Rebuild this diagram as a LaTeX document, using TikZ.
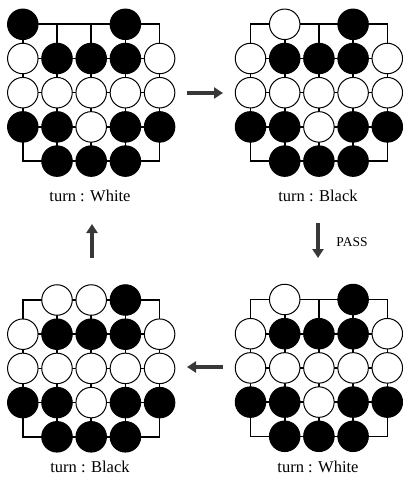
\documentclass[tikz,border=0pt]{standalone}
\usepackage{fontspec}
\setmainfont{Liberation Serif}
\usetikzlibrary{arrows.meta}
\def\sp{34.2}
\tikzset{
  gridline/.style={line width=1.6pt, line cap=rect},
  stone/.style={circle, draw=black, line width=1pt, minimum size=30.5pt, inner sep=0pt},
  stoneB/.style={stone, fill=black},
  stoneW/.style={stone, fill=white},
  turnlabel/.style={font=\fontsize{16.5}{18}\selectfont, inner sep=0pt},
  passlabel/.style={font=\fontsize{13.5}{15}\selectfont, inner sep=0pt},
  bigarrow/.style={line width=4pt, draw=black!78, -{Triangle[length=9pt,width=11pt]}},
}
\newcommand{\goboard}[4]{%
  \begin{scope}[shift={(#2,#3)}]
    \foreach \i in {0,...,4} {
      \draw[gridline] (\i*\sp,0) -- (\i*\sp,4*\sp);
      \draw[gridline] (0,\i*\sp) -- (4*\sp,\i*\sp);
    }
    \foreach \c/\r/\k in {#4} {
      \node[stone\k] (#1-\c-\r) at (\c*\sp,\r*\sp) {};
    }
    \foreach \c/\r/\k in {0/1/W,1/1/B,2/1/B,3/1/B,4/1/W,
                          0/2/W,1/2/W,2/2/W,3/2/W,4/2/W,
                          0/3/B,1/3/B,2/3/W,3/3/B,4/3/B,
                          1/4/B,2/4/B,3/4/B} {
      \node[stone\k] (#1-\c-\r) at (\c*\sp,\r*\sp) {};
    }
  \end{scope}}
\begin{document}
\begin{tikzpicture}[x=1pt,y=-1pt]
\useasboundingbox[fill=white] (0,0) rectangle (403,481);
\goboard{bA}{22.8}{24.3}{0/0/B,3/0/B}
\goboard{bB}{250.5}{24.3}{1/0/W,3/0/B}
\goboard{bC}{22.8}{300}{1/0/W,2/0/W,3/0/B}
\goboard{bD}{250.5}{299.5}{1/0/W,3/0/B}
\node[turnlabel] (tA) at (90,196) {turn : White};
\node[turnlabel] (tB) at (318,196) {turn : Black};
\node[turnlabel] (tC) at (90,467) {turn : Black};
\node[turnlabel] (tD) at (318,467) {turn : White};
\node[passlabel] (pass) at (352,242) {PASS};
\coordinate (r1) at (187,93);  \coordinate (r2) at (223,93);
\coordinate (d1) at (318,223); \coordinate (d2) at (318,258);
\coordinate (l1) at (223,367); \coordinate (l2) at (187,367);
\coordinate (u1) at (92,258);  \coordinate (u2) at (92,224);
\draw[bigarrow] (r1) -- (r2);
\draw[bigarrow] (d1) -- (d2);
\draw[bigarrow] (l1) -- (l2);
\draw[bigarrow] (u1) -- (u2);
\end{tikzpicture}
\end{document}
